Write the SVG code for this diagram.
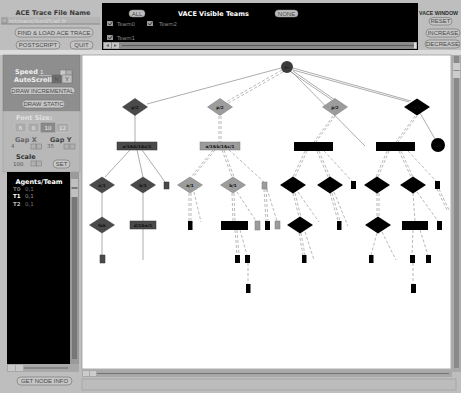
<svg xmlns="http://www.w3.org/2000/svg" width="461" height="393" viewBox="0 0 461 393">
<defs>
<style>
.btn{fill:#c6c6c6;stroke:#7a7a7a;stroke-width:0.7}
.bt{font-family:"Liberation Sans","DejaVu Sans",sans-serif;font-size:6px;fill:#4a4a4a;text-anchor:middle}
.hd{font-family:"DejaVu Sans","Liberation Sans",sans-serif;font-weight:bold;font-size:6.5px}
.sm{font-family:"DejaVu Sans","Liberation Sans",sans-serif;font-size:5.5px}
.sq{fill:#b0b0b0;stroke:#777;stroke-width:0.5}
.e{fill:none;stroke:#8a8a8a;stroke-width:0.7}
.d{fill:none;stroke:#9a9a9a;stroke-width:0.7;stroke-dasharray:3 2}
.dg{fill:#4a4a4a;stroke:#333;stroke-width:0.5}
.lg{fill:#9c9c9c;stroke:#777;stroke-width:0.5}
.bk{fill:#000}
.nl{font-family:"DejaVu Sans","Liberation Sans",sans-serif;font-size:4.2px;font-weight:bold;fill:#111;text-anchor:middle}
</style>
</defs>
<rect x="0" y="0" width="461" height="393" fill="#bebebe"/>
<rect x="0" y="50" width="461" height="5" fill="#dcdcdc"/>

<!-- top-left panel -->
<g id="ace-trace-panel">
<text class="hd" x="53" y="15" fill="#3a3a3a" text-anchor="middle">ACE Trace File Name</text>
<rect x="1" y="17" width="99" height="7" fill="#b4b4b4"/>
<line x1="1" y1="24" x2="100" y2="24" stroke="#777" stroke-width="0.7"/>
<rect x="2" y="18" width="5" height="5" class="sq"/>
<text class="sm" x="9" y="23" fill="#dedede">rch/vace/Sun05/all.tr</text>
<rect x="15" y="28" width="78" height="9" rx="4.5" class="btn"/>
<text class="bt" x="54" y="35">FIND &amp; LOAD ACE TRACE</text>
<rect x="16" y="41" width="44" height="8" rx="4" class="btn"/>
<text class="bt" x="38" y="47.3">POSTSCRIPT</text>
<rect x="70" y="41" width="23" height="8" rx="4" class="btn"/>
<text class="bt" x="81.5" y="47.3">QUIT</text>
</g>

<g id="visible-teams-panel">
<rect x="102" y="3" width="316" height="47" fill="#000"/>
<rect x="129" y="10" width="16" height="7" rx="3.5" fill="#bdbdbd" stroke="#888" stroke-width="0.5"/>
<text class="bt" x="137" y="15.5" fill="#444">ALL</text>
<text class="hd" x="178" y="15.5" fill="#fff">VACE Visible Teams</text>
<rect x="275" y="10" width="23" height="7" rx="3.5" fill="#bdbdbd" stroke="#888" stroke-width="0.5"/>
<text class="bt" x="286.5" y="15.5" fill="#666">NONE</text>
<rect x="107" y="21" width="6" height="5" fill="#999"/>
<path d="M108 23.5 L110 25 L112.5 21.5" stroke="#222" stroke-width="0.8" fill="none"/>
<text class="sm" x="117" y="25.5" fill="#888">Team0</text>
<rect x="147" y="21" width="6" height="5" fill="#999"/>
<path d="M148 23.5 L150 25 L152.5 21.5" stroke="#222" stroke-width="0.8" fill="none"/>
<text class="sm" x="159" y="25.5" fill="#888">Team2</text>
<rect x="107" y="35" width="6" height="5" fill="#999"/>
<path d="M108 37.5 L110 39 L112.5 35.5" stroke="#222" stroke-width="0.8" fill="none"/>
<text class="sm" x="117" y="39.5" fill="#888">Team1</text>
<rect x="103" y="42" width="314" height="7" fill="#8a8a8a"/>
<line x1="122" y1="45.5" x2="414" y2="45.5" stroke="#5a5a5a" stroke-width="1.2"/>
<rect x="104" y="42.5" width="7" height="6" fill="#c4c4c4"/>
<rect x="112" y="42.5" width="7" height="6" fill="#c4c4c4"/>
<path d="M109 44 L106 45.5 L109 47 Z M114 44 L117 45.5 L114 47 Z" fill="#666"/>
<rect x="414" y="42.5" width="2.5" height="6" fill="#ddd"/>
</g>

<g id="vace-window-panel">
<text x="419" y="15" fill="#2a2a2a" font-family="Liberation Sans, Arial, sans-serif" font-weight="bold" font-size="5.3">VACE WINDOW</text>
<rect x="429" y="17.5" width="23" height="7.5" rx="3.7" class="btn"/>
<text class="bt" x="440.5" y="23.3" fill="#eee">RESET</text>
<rect x="426" y="29" width="34" height="8" rx="4" class="btn"/>
<text class="bt" x="443" y="35.3">INCREASE</text>
<rect x="425" y="40" width="35" height="8" rx="4" class="btn"/>
<text class="bt" x="442.5" y="46.3">DECREASE</text>
</g>

<!-- left control panel -->
<g id="speed-panel">
<rect x="3" y="55" width="77" height="56" fill="#8e8e8e" stroke="#777" stroke-width="0.5"/>
<text class="hd" x="15" y="74" fill="#eee" font-size="6">Speed</text>
<text class="sm" x="40" y="74" fill="#eee">1</text>
<line x1="39" y1="75.5" x2="52" y2="75.5" stroke="#ddd" stroke-width="0.5"/>
<rect x="60" y="70" width="6" height="6" fill="#c8c8c8" stroke="#666" stroke-width="0.4"/>
<rect x="66" y="70" width="6" height="6" fill="#b0b0b0" stroke="#666" stroke-width="0.4"/>
<text class="hd" x="14" y="81.5" fill="#eee" font-size="6">AutoScroll</text>
<rect x="52" y="75" width="9" height="8" fill="#707070" stroke="#555" stroke-width="0.4"/>
<text class="bt" x="56.5" y="81.3" fill="#eee">N</text>
<rect x="62" y="75" width="10" height="8" fill="#c0c0c0" stroke="#555" stroke-width="0.4"/>
<text class="bt" x="67" y="81.3" fill="#444">Y</text>
<rect x="10" y="87" width="65" height="7.5" rx="3.7" class="btn"/>
<text class="bt" x="42.5" y="93">DRAW INCREMENTAL</text>
<rect x="22" y="100" width="43" height="8" rx="4" class="btn"/>
<text class="bt" x="43.5" y="106.3">DRAW STATIC</text>
</g>

<g id="font-gap-panel">
<rect x="3" y="111" width="77" height="61" fill="#b8b8b8" stroke="#999" stroke-width="0.5"/>
<text class="hd" x="16" y="119.5" fill="#e0e0e0" font-size="5.8">Font Size:</text>
<rect x="15" y="123" width="11" height="9" fill="#aaa" stroke="#ccc" stroke-width="0.5"/>
<text class="sm" x="20.5" y="129.8" fill="#eee" text-anchor="middle">6</text>
<rect x="28" y="123" width="11" height="9" fill="#aaa" stroke="#ccc" stroke-width="0.5"/>
<text class="sm" x="33.5" y="129.8" fill="#eee" text-anchor="middle">8</text>
<rect x="41" y="123" width="14" height="9" fill="#8a8a8a" stroke="#777" stroke-width="0.5"/>
<text class="sm" x="48" y="129.8" fill="#eee" text-anchor="middle">10</text>
<rect x="56" y="123" width="13" height="9" fill="#aaa" stroke="#ccc" stroke-width="0.5"/>
<text class="sm" x="62.5" y="129.8" fill="#eee" text-anchor="middle">12</text>
<text class="hd" x="15" y="141.5" fill="#666" font-size="5.8">Gap X</text>
<text class="hd" x="50" y="141.5" fill="#444" font-size="5.8">Gap Y</text>
<text class="sm" x="11" y="148" fill="#666">4</text>
<rect x="31" y="144" width="5" height="5" class="sq"/>
<rect x="36.5" y="144" width="5" height="5" class="sq"/>
<text class="sm" x="47" y="148" fill="#666">35</text>
<rect x="64" y="144" width="5" height="5" class="sq"/>
<rect x="70" y="144" width="5" height="5" class="sq"/>
<text class="hd" x="16" y="158.5" fill="#333" font-size="5.8">Scale</text>
<text class="sm" x="13" y="165.5" fill="#555">100</text>
<rect x="31" y="161" width="5" height="5" class="sq"/>
<rect x="36.5" y="161" width="5" height="5" class="sq"/>
<rect x="53" y="160" width="17" height="8" rx="4" class="btn"/>
<text class="bt" x="61.5" y="166.3">SET</text>
</g>

<g id="agents-team-list">
<rect x="7" y="172" width="63" height="192" fill="#000"/>
<rect x="70" y="172" width="9" height="192" fill="#9a9a9a"/>
<rect x="72" y="179" width="5" height="180" fill="#777"/>
<rect x="71" y="179" width="7" height="8" fill="#c0c0c0"/>
<rect x="71" y="189" width="7" height="8" fill="#c0c0c0"/>
<text class="hd" x="39" y="184" fill="#fff" text-anchor="middle" font-size="6.3">Agents/Team</text>
<text class="sm" x="13" y="190.5" fill="#777" font-weight="bold">T0</text>
<text class="sm" x="25" y="190.5" fill="#777">0,1</text>
<text class="sm" x="13" y="198" fill="#fff" font-weight="bold">T1</text>
<text class="sm" x="25" y="198" fill="#999">0,1</text>
<text class="sm" x="13" y="205.5" fill="#bbb" font-weight="bold">T2</text>
<text class="sm" x="25" y="205.5" fill="#777">0,1</text>
<rect x="7" y="364" width="72" height="8" fill="#a8a8a8"/>
<rect x="8" y="365" width="7" height="6" fill="#c8c8c8"/>
<rect x="16" y="365" width="7" height="6" fill="#c8c8c8"/>
<line x1="24" y1="368" x2="68" y2="368" stroke="#666" stroke-width="1"/>
<rect x="17" y="377" width="55" height="8" rx="4" class="btn"/>
<text class="bt" x="44.5" y="383.3">GET NODE INFO</text>
</g>

<!-- canvas -->
<g id="canvas-frame">
<rect x="82" y="55" width="369" height="314" fill="#fff" stroke="#9a9a9a" stroke-width="0.8"/>
<rect x="452" y="55" width="9" height="317" fill="#aaa"/>
<rect x="454" y="56" width="5" height="312" fill="#8a8a8a"/>
<rect x="453" y="63" width="7" height="7" fill="#ccc"/>
<rect x="453" y="71" width="7" height="7" fill="#ccc"/>
<rect x="82" y="370" width="370" height="7" fill="#a8a8a8"/>
<rect x="83" y="371" width="6" height="5" fill="#ccc"/>
<rect x="90" y="371" width="6" height="5" fill="#ccc"/>
<line x1="97" y1="373.5" x2="449" y2="373.5" stroke="#666" stroke-width="0.8"/>
<rect x="82" y="379" width="374" height="11" fill="#bcbcbc" stroke="#999" stroke-width="0.6"/>
</g>

<!-- connectors -->
<g id="connectors">
<line class="e" x1="281" y1="68" x2="147" y2="104" stroke="#666"/>
<line class="d" x1="282" y1="70" x2="226" y2="102"/>
<line class="d" x1="283" y1="72" x2="227" y2="104"/>
<line class="e" x1="291" y1="72" x2="332" y2="100"/>
<line class="e" x1="293" y1="71" x2="335" y2="100"/>
<line class="e" x1="292" y1="72" x2="365" y2="146"/>
<line class="e" x1="293" y1="68" x2="411" y2="101" stroke="#444"/>
<line class="e" x1="293" y1="70" x2="409" y2="102"/>
<line class="e" x1="420" y1="113" x2="435" y2="139" stroke="#444" stroke-width="0.9"/>
<line class="e" x1="135" y1="115" x2="135" y2="142"/>
<line class="d" x1="219" y1="116" x2="219" y2="142"/>
<line class="d" x1="221" y1="116" x2="221" y2="142"/>
<line class="d" x1="333" y1="116" x2="314" y2="142"/>
<line class="d" x1="335" y1="116" x2="316" y2="142"/>
<line class="d" x1="415" y1="116" x2="396" y2="142"/>
<line class="d" x1="417" y1="116" x2="398" y2="142"/>
<line class="e" x1="130" y1="150" x2="105" y2="177"/>
<line class="e" x1="137" y1="150" x2="143" y2="177"/>
<line class="e" x1="142" y1="150" x2="165" y2="182"/>
<line class="e" x1="102" y1="193" x2="102" y2="217"/>
<line class="e" x1="102" y1="233" x2="102" y2="255"/>
<line class="e" x1="143" y1="193" x2="143" y2="221"/>
<line class="e" x1="143" y1="229" x2="143" y2="260"/>
<line class="d" x1="213" y1="150" x2="191" y2="177"/>
<line class="d" x1="215" y1="150" x2="193" y2="177"/>
<line class="d" x1="222" y1="150" x2="232" y2="177"/>
<line class="d" x1="224" y1="150" x2="234" y2="177"/>
<line class="d" x1="229" y1="150" x2="264" y2="182"/>
<line class="d" x1="189" y1="193" x2="189" y2="221"/>
<line class="d" x1="191" y1="193" x2="191" y2="221"/>
<line class="d" x1="194" y1="192" x2="201" y2="222"/>
<line class="d" x1="232" y1="193" x2="233" y2="221"/>
<line class="d" x1="234" y1="193" x2="235" y2="221"/>
<line class="d" x1="237" y1="192" x2="256" y2="221"/>
<line class="d" x1="264" y1="189" x2="266" y2="221"/>
<line class="d" x1="266" y1="189" x2="268" y2="221"/>
<line class="d" x1="267" y1="189" x2="277" y2="221"/>
<line class="d" x1="235" y1="230" x2="237" y2="255"/>
<line class="d" x1="237" y1="230" x2="239" y2="255"/>
<line class="d" x1="240" y1="230" x2="247" y2="255"/>
<line class="d" x1="248" y1="263" x2="248" y2="284"/>
<line class="d" x1="305" y1="151" x2="293" y2="177"/>
<line class="d" x1="307" y1="151" x2="295" y2="177"/>
<line class="d" x1="317" y1="151" x2="328" y2="177"/>
<line class="d" x1="319" y1="151" x2="330" y2="177"/>
<line class="d" x1="324" y1="151" x2="352" y2="181"/>
<line class="d" x1="293" y1="193" x2="299" y2="217"/>
<line class="d" x1="295" y1="193" x2="301" y2="217"/>
<line class="d" x1="298" y1="192" x2="319" y2="222"/>
<line class="d" x1="330" y1="193" x2="338" y2="221"/>
<line class="d" x1="332" y1="193" x2="340" y2="221"/>
<line class="d" x1="334" y1="192" x2="348" y2="226"/>
<line class="d" x1="299" y1="233" x2="303" y2="255"/>
<line class="d" x1="301" y1="233" x2="305" y2="255"/>
<line class="d" x1="305" y1="232" x2="314" y2="260"/>
<line class="d" x1="387" y1="151" x2="376" y2="177"/>
<line class="d" x1="389" y1="151" x2="378" y2="177"/>
<line class="d" x1="399" y1="151" x2="411" y2="177"/>
<line class="d" x1="401" y1="151" x2="413" y2="177"/>
<line class="d" x1="408" y1="151" x2="436" y2="181"/>
<line class="d" x1="437" y1="189" x2="447" y2="210"/>
<line class="d" x1="439" y1="189" x2="449" y2="210"/>
<line class="d" x1="377" y1="193" x2="377" y2="217"/>
<line class="d" x1="379" y1="193" x2="379" y2="217"/>
<line class="d" x1="413" y1="193" x2="415" y2="221"/>
<line class="d" x1="417" y1="192" x2="438" y2="221"/>
<line class="d" x1="377" y1="233" x2="371" y2="255"/>
<line class="d" x1="382" y1="232" x2="396" y2="260"/>
<line class="d" x1="413" y1="230" x2="412" y2="255"/>
<line class="d" x1="420" y1="230" x2="428" y2="255"/>
<line class="d" x1="413" y1="263" x2="413" y2="284"/>
</g>

<!-- nodes -->
<g id="n-root"><circle cx="287" cy="67" r="6" fill="#3c3c3c"/><text class="nl" x="287" y="68.5">r-</text></g>
<g id="n-p1"><path d="M122.5 107 L135 98.5 L147.5 107 L135 115.5 Z" class="dg"/><text class="nl" x="135" y="108.5">p/2</text></g>
<g id="n-p2"><path d="M207.5 107 L220 98.5 L232.5 107 L220 115.5 Z" class="lg"/><text class="nl" x="220" y="108.5">p/2</text></g>
<g id="n-p3"><path d="M322.5 107 L335 98.5 L347.5 107 L335 115.5 Z" class="lg"/><text class="nl" x="335" y="108.5">p/2</text></g>
<g id="n-p4"><path d="M404 107 L417 98.5 L430 107 L417 115.5 Z" class="bk"/><text class="nl" x="417" y="108.5">p/1</text></g>
<g id="n-c1"><circle cx="438" cy="145" r="7" fill="#000"/><text class="nl" x="438" y="146.5">p/1</text></g>
<g id="n-r1"><rect x="117" y="142" width="40" height="8" class="dg"/><text class="nl" x="137" y="147.5">a/1&amp;b/1&amp;c/1</text></g>
<g id="n-r2"><rect x="200" y="142" width="40" height="8" class="lg"/><text class="nl" x="220" y="147.5">a/1&amp;b/1&amp;c/1</text></g>
<g id="n-r3"><rect x="294" y="142" width="39" height="9" class="bk"/></g>
<g id="n-r4"><rect x="376" y="142" width="39" height="9" class="bk"/></g>
<g id="n-a1"><path d="M89.5 185 L102 177 L114.5 185 L102 193 Z" class="dg"/><text class="nl" x="102" y="186.5">a/1</text></g>
<g id="n-b1"><path d="M130.5 185 L143 177 L155.5 185 L143 193 Z" class="dg"/><text class="nl" x="143" y="186.5">b/1</text></g>
<g id="n-s1"><rect x="164" y="182" width="5" height="7" class="dg"/></g>
<g id="n-a2"><path d="M177.5 185 L190 177 L202.5 185 L190 193 Z" class="lg"/><text class="nl" x="190" y="186.5">a/1</text></g>
<g id="n-b2"><path d="M220.5 185 L233 177 L245.5 185 L233 193 Z" class="lg"/><text class="nl" x="233" y="186.5">b/1</text></g>
<g id="n-s2"><rect x="262" y="182" width="5" height="7" class="lg"/></g>
<g id="n-k1"><path d="M280 185 L293 176.5 L306 185 L293 193.5 Z" class="bk"/></g>
<g id="n-k2"><path d="M317 185 L330 176.5 L343 185 L330 193.5 Z" class="bk"/></g>
<g id="n-s3"><rect x="351" y="181" width="5" height="8" class="bk"/></g>
<g id="n-k3"><path d="M364 185 L377 176.5 L390 185 L377 193.5 Z" class="bk"/></g>
<g id="n-k4"><path d="M400 185 L413 176.5 L426 185 L413 193.5 Z" class="bk"/></g>
<g id="n-s4"><rect x="435" y="181" width="5" height="8" class="bk"/></g>
<g id="n-fak"><path d="M89.5 225 L102 217 L114.5 225 L102 233 Z" class="dg"/><text class="nl" x="102" y="226.5">fak</text></g>
<g id="n-de"><rect x="130" y="221" width="26" height="8" class="dg"/><text class="nl" x="143" y="226.5">d/1&amp;e/1</text></g>
<g id="n-s5"><rect x="188" y="221" width="4.5" height="9" class="bk"/></g>
<g id="n-w1"><rect x="221" y="221" width="27" height="9" class="bk"/></g>
<g id="n-s6"><rect x="255" y="221" width="5" height="9" class="lg" stroke="none"/></g>
<g id="n-s7"><rect x="265" y="221" width="5" height="9" class="bk"/></g>
<g id="n-s8"><rect x="275" y="221" width="5" height="8" class="lg" stroke="none"/></g>
<g id="n-k5"><path d="M287 225 L300 216.5 L313 225 L300 233.5 Z" class="bk"/></g>
<g id="n-s9"><rect x="337" y="221" width="4.5" height="9" class="bk"/></g>
<g id="n-k6"><path d="M365 225 L378 216.5 L391 225 L378 233.5 Z" class="bk"/></g>
<g id="n-w2"><rect x="402" y="221" width="26" height="9" class="bk"/></g>
<g id="n-s10"><rect x="437" y="221" width="5" height="9" class="bk"/></g>
<g id="n-t1"><rect x="100" y="255" width="5" height="8" class="dg"/></g>
<g id="n-t2"><rect x="235" y="255" width="5" height="8" class="bk"/></g>
<g id="n-t3"><rect x="245" y="255" width="5" height="8" class="bk"/></g>
<g id="n-t4"><rect x="302" y="255" width="4.5" height="8" class="bk"/></g>
<g id="n-t5"><rect x="369" y="255" width="4.5" height="8" class="bk"/></g>
<g id="n-t6"><rect x="410" y="255" width="5" height="8" class="bk"/></g>
<g id="n-t7"><rect x="426" y="255" width="5" height="8" class="bk"/></g>
<g id="n-u1"><rect x="246" y="284" width="4.5" height="9" class="bk"/></g>
<g id="n-u2"><rect x="411" y="284" width="5" height="9" class="bk"/></g>
</svg>
